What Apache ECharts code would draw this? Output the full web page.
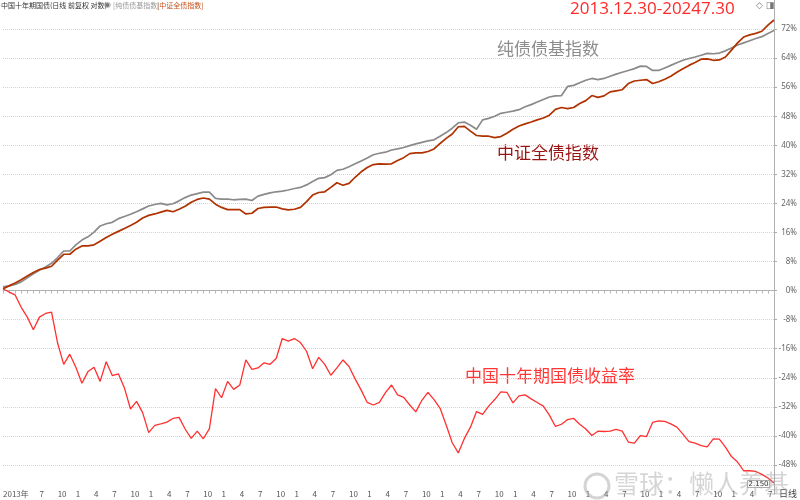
<!DOCTYPE html>
<html>
<head>
<meta charset="utf-8">
<script src="https://cdn.jsdelivr.net/npm/echarts@6/dist/echarts.min.js"></script>
<style>
html,body{margin:0;padding:0;background:#fff;}
#chart{width:800px;height:500px;}
</style>
</head>
<body>
<div id="chart"></div>
<script>
// ---- data (cumulative change %, month-end sampling from 2013-12-30 to 2024-07-30) ----
const startLabel = '2013年';
const yTickValues = [-48, -40, -32, -24, -16, -8, 0, 8, 16, 24, 32, 40, 48, 56, 64, 72];

// 纯债债基指数
const pureBondFund = [
  1.0, 1.3, 1.7, 2.4, 3.5, 4.6, 5.6, 6.5, 7.5, 9.1, 10.9, 10.9,
  12.6, 13.9, 14.8, 16.1, 17.8, 18.4, 18.8, 19.8, 20.4, 21.0, 21.7, 22.5,
  23.3, 23.7, 24.0, 23.6, 23.9, 24.7, 25.6, 26.3, 26.7, 27.1, 27.1, 25.4,
  25.2, 25.2, 25.0, 25.1, 25.2, 24.8, 26.0, 26.5, 26.9, 27.2, 27.4, 27.7,
  28.1, 28.4, 29.1, 30.0, 30.9, 31.1, 31.9, 33.1, 33.4, 34.1, 34.9, 35.7,
  36.5, 37.4, 37.8, 38.1, 38.7, 39.0, 39.4, 39.9, 40.4, 40.8, 41.2, 41.5,
  42.5, 43.5, 44.7, 46.2, 46.4, 45.5, 44.4, 47.0, 47.4, 48.0, 48.8, 49.1,
  49.4, 49.8, 50.6, 51.2, 51.9, 52.6, 53.3, 53.6, 53.7, 56.2, 56.5, 57.2,
  57.9, 58.4, 58.1, 58.4, 59.0, 59.6, 60.1, 60.6, 61.1, 61.8, 61.7, 60.6,
  60.6, 61.3, 62.0, 62.7, 63.4, 63.9, 64.3, 64.8, 65.3, 65.2, 65.4, 66.0,
  66.8, 67.6, 68.2, 68.8, 69.4, 69.9, 70.8, 71.6
];

// 中证全债指数
const chinaBondIndex = [
  0.5, 1.3, 2.1, 3.0, 4.0, 5.0, 5.8, 6.2, 6.7, 8.4, 10.0, 10.0,
  11.4, 12.3, 12.3, 12.6, 13.6, 14.6, 15.5, 16.3, 17.1, 17.9, 18.8, 20.0,
  20.7, 21.1, 21.6, 22.1, 21.7, 22.4, 23.2, 24.3, 25.1, 25.5, 25.2, 23.8,
  22.9, 22.3, 22.3, 22.3, 21.1, 21.3, 22.6, 22.9, 23.0, 23.0, 22.5, 22.2,
  22.4, 22.9, 24.5, 26.3, 27.0, 27.2, 28.4, 29.7, 29.0, 29.5, 31.2, 32.7,
  33.9, 34.7, 34.9, 34.8, 34.9, 35.8, 36.6, 37.7, 37.9, 37.9, 38.3, 39.0,
  40.5, 41.9, 43.1, 45.1, 45.2, 43.9, 42.7, 42.5, 42.5, 42.1, 42.4, 43.3,
  44.4, 45.3, 45.9, 46.4, 47.0, 47.5, 48.3, 49.9, 50.4, 50.1, 50.4, 51.5,
  52.3, 53.7, 53.2, 53.6, 54.7, 55.0, 55.3, 57.0, 57.7, 57.9, 58.1, 57.0,
  57.5, 58.2, 59.0, 60.1, 61.1, 62.0, 62.8, 63.7, 63.8, 63.4, 63.5, 64.3,
  66.2, 68.2, 69.8, 70.4, 70.8, 71.4, 73.1, 74.5
];

// 中国十年期国债收益率
const cn10yYield = [
  0.5, -0.4, -1.2, -4.6, -7.3, -10.8, -7.3, -6.3, -5.9, -14.5, -20.3, -17.5,
  -21.1, -25.5, -22.3, -21.1, -25.0, -19.6, -23.4, -22.9, -26.8, -32.6, -30.5, -33.6,
  -39.1, -37.1, -36.7, -36.2, -35.2, -34.9, -38.1, -40.7, -38.7, -40.8, -38.0, -27.0,
  -29.5, -25.0, -27.2, -26.0, -19.1, -21.7, -21.3, -19.9, -20.3, -18.7, -13.2, -13.9,
  -13.2, -14.3, -16.7, -21.5, -18.4, -20.3, -23.3, -21.3, -19.1, -20.9, -24.3, -27.4,
  -30.8, -31.5, -30.8, -28.1, -26.0, -28.7, -29.4, -31.5, -33.4, -30.2, -28.0, -30.0,
  -32.4, -37.0, -41.9, -44.7, -40.7, -37.6, -33.3, -34.1, -31.8, -30.0, -27.9, -28.0,
  -30.9, -29.0, -28.7, -29.8, -30.8, -31.8, -34.3, -37.4, -36.8, -35.5, -35.2, -36.8,
  -38.1, -39.9, -38.7, -38.8, -38.7, -38.2, -38.7, -41.7, -42.0, -39.9, -40.2, -36.3,
  -35.9, -36.0, -36.7, -37.6, -39.5, -41.6, -42.0, -42.7, -43.0, -40.8, -40.9, -43.1,
  -45.7, -47.2, -49.6, -49.6, -49.8, -50.6, -51.6, -53.0
];

// categories: 2013-12-30, then month ends 2014-01 ... 2024-07
const categories = ['2013-12-30'];
for (let y = 2014; y <= 2024; y++) {
  for (let m = 1; m <= 12; m++) {
    if (y === 2024 && m > 7) break;
    categories.push(y + '-' + (m < 10 ? '0' + m : m));
  }
}

const chart = echarts.init(document.getElementById('chart'));
const CJK = '"Noto Sans CJK SC", "Noto Sans", sans-serif';

const option = {
  animation: false,
  backgroundColor: '#ffffff',
  grid: { left: 0, right: 25, top: -4, height: 498, containLabel: false },
  xAxis: {
    type: 'category',
    data: categories,
    boundaryGap: false,
    offset: -7,
    axisLine: { show: true, lineStyle: { color: '#b0b0b0', width: 1 } },
    axisTick: { show: true, interval: 0, length: 3, lineStyle: { color: '#b8b8b8' } },
    axisLabel: {
      interval: function (i) { return i === 0 || (i >= 6 && i % 3 === 0); },
      formatter: function (v, i) { return i === 0 ? startLabel : String((i % 12) + 1); },
      align: 'left',
      margin: 3,
      fontSize: 8,
      color: '#555',
      fontFamily: CJK
    },
    splitLine: { show: false }
  },
  yAxis: {
    type: 'value',
    position: 'right',
    min: -56,
    max: 80,
    interval: 8,
    axisLine: { show: true, lineStyle: { color: '#b0b0b0', width: 1 } },
    axisTick: { show: true, length: 3, lineStyle: { color: '#aaa' } },
    axisLabel: {
      showMinLabel: false,
      showMaxLabel: false,
      align: 'right',
      margin: 23,
      fontSize: 8,
      color: '#666',
      fontFamily: '"Noto Sans", sans-serif',
      formatter: function (v) { return yTickValues.indexOf(v) >= 0 ? v + '%' : ''; }
    },
    splitLine: {
      show: true,
      showMinLine: false,
      showMaxLine: false,
      lineStyle: { color: '#d2d2d2', type: 'dotted', width: 1 }
    }
  },
  series: [
    {
      name: '中国十年期国债收益率', type: 'line', data: cn10yYield, symbol: 'none',
      lineStyle: { color: '#ff3030', width: 1.3 }, z: 3
    },
    {
      name: '纯债债基指数', type: 'line', data: pureBondFund, symbol: 'none',
      lineStyle: { color: '#8a8a8a', width: 1.7 }, z: 4
    },
    {
      name: '中证全债指数', type: 'line', data: chinaBondIndex, symbol: 'none',
      lineStyle: { color: '#b03200', width: 1.7 }, z: 5
    }
  ],
  graphic: [
    { type: 'text', left: 1, top: 2, style: { text: '中国十年期国债(日线 前复权 对数)', fontSize: 7, fill: '#333', fontFamily: CJK } },
    { type: 'text', left: 104, top: 1, style: { text: '◉', fontSize: 8, fill: '#777', fontFamily: '"DejaVu Sans"' } },
    { type: 'text', left: 113, top: 2, style: { text: '[纯债债基指数]', fontSize: 7, fill: '#999', fontFamily: CJK } },
    { type: 'text', left: 157, top: 2, style: { text: '[中证全债指数]', fontSize: 7, fill: '#c4521c', fontFamily: CJK } },
    { type: 'text', left: 756, top: 1, style: { text: '◇ ◨', fontSize: 9, fill: '#777', fontFamily: '"DejaVu Sans"' } },
    { type: 'text', left: 570, top: 1, style: { text: '2013.12.30-20247.30', fontSize: 17, fill: '#ff2a2a', fontFamily: '"Open Sans", sans-serif' } },
    { type: 'text', left: 497, top: 40, style: { text: '纯债债基指数', fontSize: 17, fill: '#8c8c8c', fontFamily: CJK } },
    { type: 'text', left: 497, top: 144, style: { text: '中证全债指数', fontSize: 17, fill: '#9a1414', fontFamily: CJK } },
    { type: 'text', left: 465, top: 367, style: { text: '中国十年期国债收益率', fontSize: 17, fill: '#ff3636', fontFamily: CJK } },
    { type: 'circle', shape: { cx: 597, cy: 486, r: 12 }, style: { fill: 'none', stroke: 'rgba(160,160,160,0.45)', lineWidth: 3 }, z: 100 },
    { type: 'text', left: 614, top: 471, style: { text: '雪球：懒人养基', fontSize: 25, fill: 'rgba(150,150,150,0.4)', fontFamily: CJK }, z: 100 },
    { type: 'text', left: 747, top: 480, style: { text: '2.150', fontSize: 7, fill: '#333', fontFamily: '"DejaVu Sans"', borderColor: '#888', borderWidth: 0.5, padding: [0, 1], backgroundColor: 'rgba(255,255,255,0.6)' }, z: 100 },
    { type: 'text', left: 779, top: 489, style: { text: '日线', fontSize: 9, fill: '#444', fontFamily: CJK } }
  ]
};
chart.setOption(option);
</script>
</body>
</html>
